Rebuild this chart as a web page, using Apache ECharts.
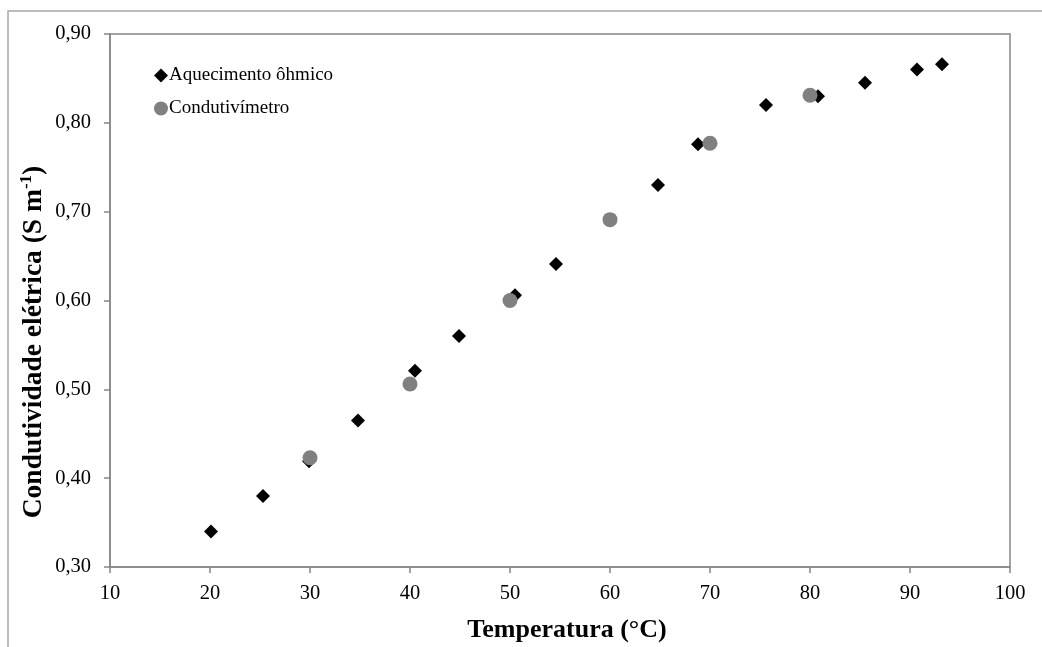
<!DOCTYPE html>
<html>
<head>
<meta charset="utf-8">
<script src="https://cdn.jsdelivr.net/npm/echarts@6/dist/echarts.min.js"></script>
<style>
html,body{margin:0;padding:0;background:#fff;}
#chart{width:1042px;height:647px;}
</style>
</head>
<body>
<div id="chart"></div>
<script>
// Data
const ohmicTemp = [20.1, 25.3, 29.9, 34.8, 40.5, 44.9, 50.5, 54.6, 64.8, 68.8, 75.6, 80.8, 85.5, 90.7, 93.2];
const ohmicCond = [0.340, 0.380, 0.419, 0.465, 0.521, 0.560, 0.606, 0.641, 0.730, 0.776, 0.820, 0.830, 0.845, 0.860, 0.866];
const condTemp = [30, 40, 50, 60, 70, 80];
const condCond = [0.423, 0.506, 0.600, 0.691, 0.777, 0.831];
const seriesNames = ['Aquecimento ôhmico', 'Condutivímetro'];
const xTitle = 'Temperatura (°C)';
const yTitle = 'Condutividade elétrica (S m';

const FONT = '"Liberation Serif", "Times New Roman", serif';
const AXIS = '#868686';

const chart = echarts.init(document.getElementById('chart'), null, {renderer: 'canvas'});
const option = {
  backgroundColor: '#fff',
  animation: false,
  grid: {left: 110, top: 34, right: 32, bottom: 80, show: true, borderColor: AXIS, borderWidth: 1.5, containLabel: false},
  legend: {
    orient: 'vertical', left: 149, top: 61, itemWidth: 14, itemHeight: 14, itemGap: 14,
    textStyle: {fontFamily: FONT, fontSize: 19, color: '#000', padding: [0,0,0,-4]},
    data: [{name: seriesNames[0], icon: 'diamond'}, {name: seriesNames[1], icon: 'circle'}],
    selectedMode: false
  },
  xAxis: {
    type: 'value', min: 10, max: 100, interval: 10,
    axisLine: {show: true, lineStyle: {color: AXIS, width: 1.5}},
    axisTick: {show: true, inside: false, length: 6, lineStyle: {color: AXIS, width: 1.5}},
    splitLine: {show: false},
    axisLabel: {fontFamily: FONT, fontSize: 20.5, color: '#000', margin: 16}
  },
  yAxis: {
    type: 'value', min: 0.3, max: 0.9, interval: 0.1,
    axisLine: {show: true, lineStyle: {color: AXIS, width: 1.5}},
    axisTick: {show: true, inside: false, length: 6, lineStyle: {color: AXIS, width: 1.5}},
    splitLine: {show: false},
    axisLabel: {fontFamily: FONT, fontSize: 20.5, color: '#000', margin: 19,
      formatter: v => v.toFixed(2).replace('.', ',')}
  },
  graphic: [
    {type: 'rect', silent: true, shape: {x: 8, y: 11, width: 1200, height: 800},
      style: {fill: 'none', stroke: '#a6a6a6', lineWidth: 1.5}},
    {type: 'text', x: 567, y: 630, silent: true,
      style: {text: xTitle, font: 'bold 26px ' + FONT, fill: '#000', align: 'center', verticalAlign: 'middle'}},
    {type: 'text', x: 33, y: 342, rotation: Math.PI / 2, silent: true,
      style: {
        text: '{a|' + yTitle + '}{s|-1}{a|)}',
        align: 'center', verticalAlign: 'middle',
        rich: {
          a: {font: 'bold 27.5px ' + FONT, fill: '#000', verticalAlign: 'bottom', lineHeight: 30},
          s: {font: 'bold 17px ' + FONT, fill: '#000', verticalAlign: 'top', lineHeight: 30, padding: [0,0,13,0]}
        }
      }}
  ],
  series: [
    {name: seriesNames[0], type: 'scatter', symbol: 'diamond', symbolSize: 14,
      itemStyle: {color: '#000', opacity: 1}, emphasis: {disabled: true},
      data: ohmicTemp.map((t, i) => [t, ohmicCond[i]])},
    {name: seriesNames[1], type: 'scatter', symbol: 'circle', symbolSize: 15,
      itemStyle: {color: '#808080', opacity: 1}, emphasis: {disabled: true},
      data: condTemp.map((t, i) => [t, condCond[i]])}
  ]
};
chart.setOption(option);
</script>
</body>
</html>
